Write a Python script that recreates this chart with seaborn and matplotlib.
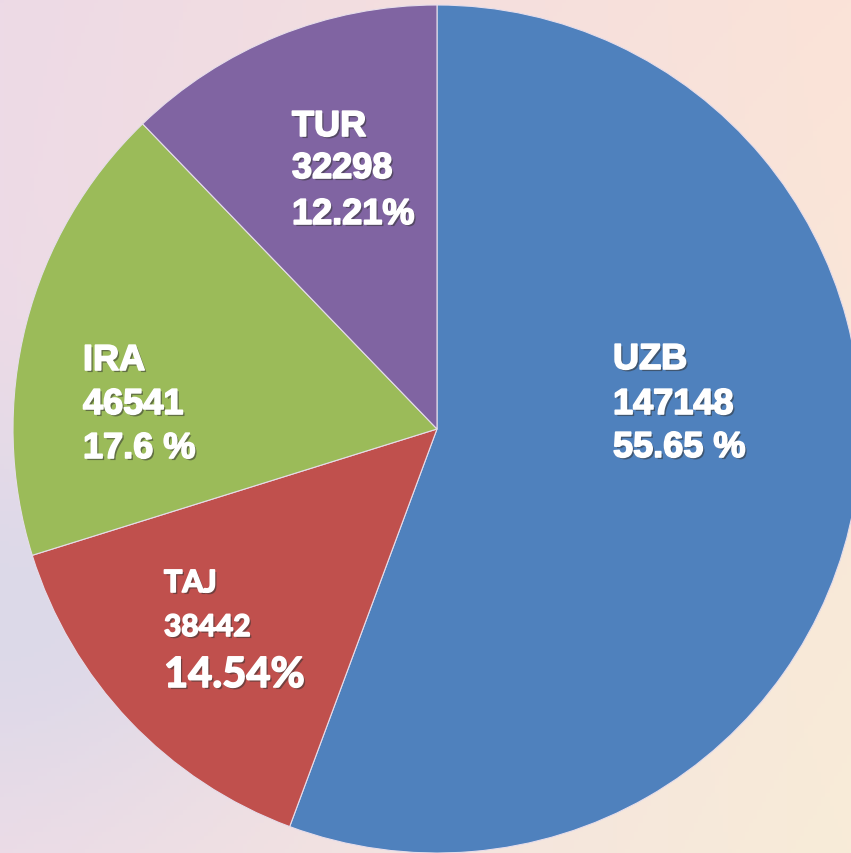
import numpy as np
import matplotlib
matplotlib.use("Agg")
import matplotlib.pyplot as plt
import matplotlib.patheffects as pe
from matplotlib.colors import to_rgb
import seaborn as sns

# 데이터
countries = ["UZB", "TAJ", "IRA", "TUR"]
counts = [147148, 38442, 46541, 32298]
pct_labels = ["55.65 %", "14.54%", "17.6 %", "12.21%"]
slice_colors = ["#4F81BD", "#C0504D", "#9BBB59", "#8064A2"]

sns.set_theme(style="white")
plt.rcParams['font.family'] = ['Liberation Sans', 'DejaVu Sans']

W, H = 851, 854
fig = plt.figure(figsize=(W / 100, H / 100), dpi=100)
ax = fig.add_axes([0, 0, 1, 1])

# 배경 그라데이션 (코너 색 보간)
tl, tr = np.array(to_rgb("#EDDAE6")), np.array(to_rgb("#FBE3D8"))
bl, br = np.array(to_rgb("#F1DDE6")), np.array(to_rgb("#F8ECD8"))
ml = np.array(to_rgb("#DCD9E9"))
yy, xx = np.mgrid[0:1:200j, 0:1:200j]
top = tl * (1 - xx[..., None]) + tr * xx[..., None]
bot = bl * (1 - xx[..., None]) + br * xx[..., None]
bg = top * (1 - yy[..., None]) + bot * yy[..., None]
# 왼쪽 아래 라벤더 톤
blob = np.exp(-(((xx - 0.0) / 0.35) ** 2 + ((yy - 0.72) / 0.25) ** 2))[..., None]
bg = bg * (1 - blob) + ml * blob
ax.imshow(bg, extent=(0, W, 0, H), origin="upper", zorder=0, aspect="auto")

# 파이 차트
cx, cy, r = 437, H - 430, 424
wedges, _ = ax.pie(
    counts,
    colors=slice_colors,
    startangle=90,
    counterclock=False,
    center=(cx, cy),
    radius=r,
    wedgeprops=dict(edgecolor="#E6DDEA", linewidth=0.8),
)
ax.set_xlim(0, W)
ax.set_ylim(0, H)
ax.set_aspect("auto")
ax.axis("off")

shadow = [pe.withSimplePatchShadow(offset=(1.5, -1.5), shadow_rgbFace="#333333", alpha=0.55),
          pe.withStroke(linewidth=1.2, foreground="white")]

# 라벨 위치 (왼쪽 x, 각 줄 baseline y) - 픽셀 기준
label_pos = {
    "UZB": (613, [370, 415, 458]),
    "TAJ": (164, [593, 637, 688]),
    "IRA": (83, [371, 415, 459]),
    "TUR": (292, [137, 179, 225]),
}

for name, cnt, pct in zip(countries, counts, pct_labels):
    x0, ys = label_pos[name]
    lines = [name, str(cnt), pct]
    if name == "TAJ":
        sizes = [22, 21.5, 30]
        fam = ['Lato', 'DejaVu Sans']
    else:
        sizes = [26, 26, 26]
        fam = ['Liberation Sans', 'DejaVu Sans']
    for txt, yb, fs in zip(lines, ys, sizes):
        ax.text(x0, H - yb, txt, ha="left", va="baseline", fontsize=fs,
                fontweight="bold", color="white", family=fam,
                path_effects=shadow, zorder=5)

fig.savefig("out.png", dpi=100)
